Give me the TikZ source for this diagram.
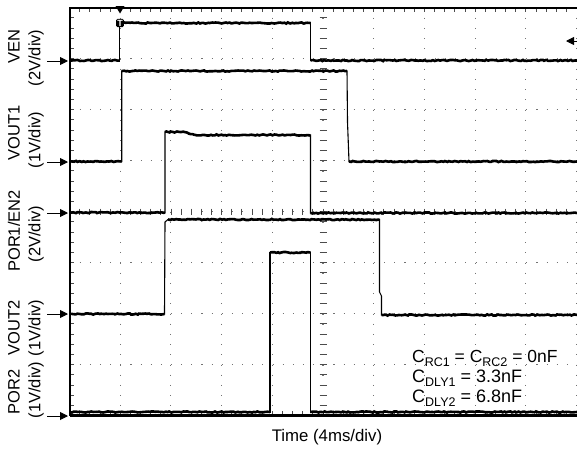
\documentclass[tikz,border=0pt]{standalone}
\usepackage{fontspec}
\setmainfont{Liberation Sans}
\usetikzlibrary{arrows.meta}
\usetikzlibrary{decorations.pathmorphing}
\tikzset{lab/.style={font=\fontsize{16.5}{16.5}\selectfont, rotate=90, inner sep=0pt}}
\tikzset{txt/.style={font=\fontsize{18}{18}\selectfont, inner sep=0pt}}
\tikzset{trc/.style={line width=2.6pt, decorate, decoration={random steps, segment length=2pt, amplitude=0.6pt}}}
\tikzset{edg/.style={line width=1.1pt}}
\tikzset{dots/.style={black!55, line width=1.1pt, dash pattern=on 1.1pt off 9.1pt}}
\tikzset{hdots/.style={black!55, line width=1.1pt, dash pattern=on 1.1pt off 9.05pt}}
\tikzset{tck/.style={black!70, line width=0.8pt}}
\tikzset{gnd/.style={-{Triangle[length=8pt,width=8pt]}, line width=0.9pt}}
\newcommand{\csub}[1]{\raisebox{-4pt}{\fontsize{12.5}{12.5}\selectfont #1}}

\begin{document}
\begin{tikzpicture}[x=1pt,y=-1pt]
  \useasboundingbox (0,0) rectangle (577,461);
  \foreach \i in {1,...,10}
    \draw[dots] (69.5+50.7*\i,7.5) -- (69.5+50.7*\i,415.5);
  \foreach \j in {1,...,7}
    \draw[hdots] (69.5,7.5+51*\j) -- (577,7.5+51*\j);
  \foreach \k in {0,...,40} {
    \draw[tck] (319.5,7.5+10.2*\k) -- (326.5,7.5+10.2*\k);
    \draw[tck] (69.5,7.5+10.2*\k) -- (74,7.5+10.2*\k);
  }
  \foreach \k in {0,...,49} {
    \draw[tck] (69.5+10.14*\k,208.5) -- (69.5+10.14*\k,214.5);
    \draw[tck] (69.5+10.14*\k,7.5) -- (69.5+10.14*\k,12);
    \draw[tck] (69.5+10.14*\k,415.5) -- (69.5+10.14*\k,411);
  }
  \draw[line width=2pt] (577,7.5) -- (69.5,7.5) -- (69.5,415.5);
  \draw[line width=3pt] (69.5,415.5) -- (577,415.5);

  \draw[edg] (69.5,60.5) -| (119.8,23) -| (310.5,60.5) -- (577,60.5);
  \foreach \a/\b/\y in {69.5/119.8/60.5, 119.8/310.5/23, 310.5/577/60.5}
    \draw[trc] (\a,\y) -- (\b,\y);

  \draw[edg] (69.5,161.5) -| (121.7,71) -- (347,71) -- (347.5,122) -- (349,161.5) -- (577,161.5);
  \foreach \a/\b/\y in {69.5/121.7/161.5, 121.7/347/71, 349/577/161.5}
    \draw[trc] (\a,\y) -- (\b,\y);

  \draw[edg] (69.5,212.5) -| (165,132) -- (185,132) -- (195,135) -| (310.5,213) -- (577,213);
  \foreach \a/\b/\y in {69.5/165/212.5, 165/185/132, 195/310.5/135, 310.5/577/213}
    \draw[trc] (\a,\y) -- (\b,\y);
  \draw[trc] (185,132) -- (195,135);

  \draw[edg] (69.5,314) -- (164.5,314) -- (165,222) -- (168,219.5) -| (379.5,292) -- (381.5,296) -- (381.5,315) -- (577,315);
  \foreach \a/\b/\y in {69.5/164.5/314, 168/379.5/219.5, 381.5/577/315}
    \draw[trc] (\a,\y) -- (\b,\y);

  \draw[edg] (69.5,412) -| (270,252.5) -| (310.5,412) -- (577,412);
  \foreach \a/\b/\y in {69.5/270/412, 270/310.5/252.5, 310.5/577/412}
    \draw[trc] (\a,\y) -- (\b,\y);

  \fill (115.5,6) -- (124.5,6) -- (120,13.5) -- cycle;
  \node[fill=black, text=white, inner xsep=1.2pt, inner ysep=1pt, rounded corners=1.5pt,
    font=\fontsize{9}{9}\selectfont\bfseries] (trg) at (120,23) {T};

  \coordinate (lv1) at (578,41);
  \coordinate (lv2) at (566,41);
  \draw[gnd] (lv1) -- (lv2);
  \foreach \n/\y in {1/61, 2/162, 3/213, 4/314, 5/416} {
    \coordinate (s\n) at (47,\y);
    \coordinate (t\n) at (68,\y);
    \draw[gnd] (s\n) -- (t\n);
  }

  \node[lab] (ven) at (14,47) {VEN};
  \node[lab] (venu) at (36,58) {(2V/div)};
  \node[lab] (vo1) at (14,133) {VOUT1};
  \node[lab] (vo1u) at (36,140) {(1V/div)};
  \node[lab] (por1) at (14,231) {POR1/EN2};
  \node[lab] (por1u) at (36,234) {(2V/div)};
  \node[lab] (vo2) at (14,328) {VOUT2};
  \node[lab] (vo2u) at (36,328) {(1V/div)};
  \node[lab] (por2) at (14,392) {POR2};
  \node[lab] (por2u) at (36,390) {(1V/div)};

  \node[font=\fontsize{16.8}{16.8}\selectfont] (time) at (327,437) {Time (4ms/div)};
  \node[txt, anchor=base west, font=\fontsize{17.5}{17.5}\selectfont] (crc) at (412,362) {C\csub{RC1} = C\csub{RC2} = 0nF};
  \node[txt, anchor=base west] (cd1) at (412,382) {C\csub{DLY1} = 3.3nF};
  \node[txt, anchor=base west] (cd2) at (412,402) {C\csub{DLY2} = 6.8nF};
\end{tikzpicture}
\end{document}
